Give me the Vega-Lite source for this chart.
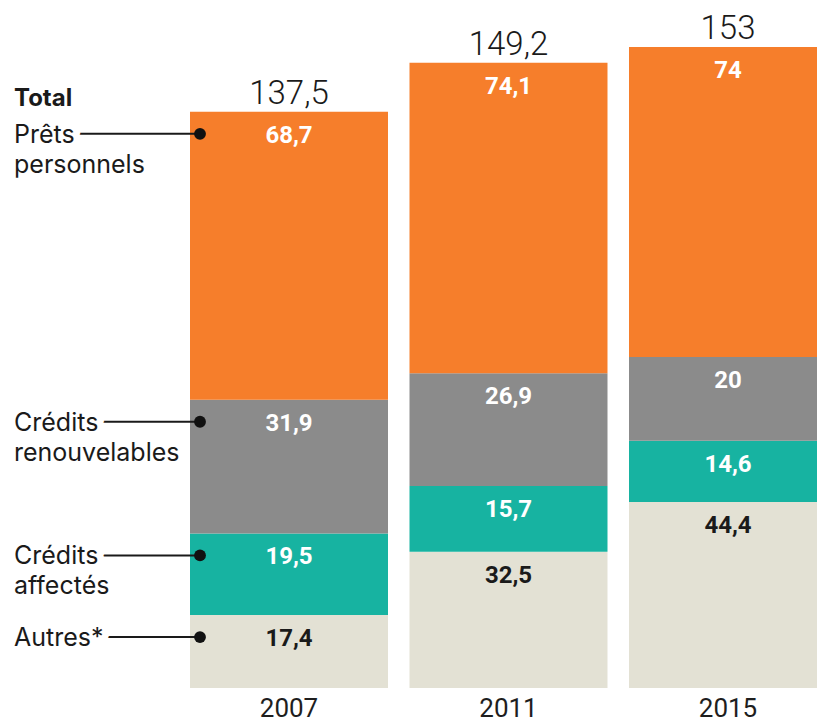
{
  "$schema": "https://vega.github.io/schema/vega-lite/v6.json",
  "width": 627,
  "height": 688,
  "autosize": {"type": "none"},
  "padding": {"left": 190, "top": 0, "right": 0, "bottom": 34},
  "background": "white",
  "config": {"view": {"stroke": null}, "font": "Roboto"},
  "data": {
    "values": [
      {"annee": "2007", "categorie": "Autres*", "ordre": 1, "valeur": 17.4},
      {"annee": "2007", "categorie": "Crédits affectés", "ordre": 2, "valeur": 19.5},
      {"annee": "2007", "categorie": "Crédits renouvelables", "ordre": 3, "valeur": 31.9},
      {"annee": "2007", "categorie": "Prêts personnels", "ordre": 4, "valeur": 68.7},
      {"annee": "2011", "categorie": "Autres*", "ordre": 1, "valeur": 32.5},
      {"annee": "2011", "categorie": "Crédits affectés", "ordre": 2, "valeur": 15.7},
      {"annee": "2011", "categorie": "Crédits renouvelables", "ordre": 3, "valeur": 26.9},
      {"annee": "2011", "categorie": "Prêts personnels", "ordre": 4, "valeur": 74.1},
      {"annee": "2015", "categorie": "Autres*", "ordre": 1, "valeur": 44.4},
      {"annee": "2015", "categorie": "Crédits affectés", "ordre": 2, "valeur": 14.6},
      {"annee": "2015", "categorie": "Crédits renouvelables", "ordre": 3, "valeur": 20},
      {"annee": "2015", "categorie": "Prêts personnels", "ordre": 4, "valeur": 74}
    ]
  },
  "transform": [
    {"stack": "valeur", "groupby": ["annee"], "sort": [{"field": "ordre"}], "as": ["y0", "y1"]},
    {"calculate": "replace(format(datum.valeur, '.1~f'), '.', ',')", "as": "etiquette"}
  ],
  "encoding": {
    "x": {
      "field": "annee", "type": "nominal",
      "scale": {"range": [0, 637], "paddingInner": 0.098, "paddingOuter": 0},
      "axis": {"title": null, "domain": false, "ticks": false, "labelAngle": 0, "labelFont": "Roboto", "labelFontSize": 26, "labelColor": "#1e1e1e", "labelPadding": 7}
    }
  },
  "layer": [
    {
      "mark": {"type": "bar"},
      "encoding": {
        "y": {"field": "y1", "type": "quantitative", "scale": {"domain": [0, 164.2], "nice": false}, "axis": null},
        "y2": {"field": "y0"},
        "color": {
          "field": "categorie", "type": "nominal", "legend": null,
          "scale": {
            "domain": ["Autres*", "Crédits affectés", "Crédits renouvelables", "Prêts personnels"],
            "range": ["#E3E1D4", "#17B3A1", "#8B8B8B", "#F67E2B"]
          }
        }
      }
    },
    {
      "mark": {"type": "text", "baseline": "alphabetic", "dy": 31, "fontSize": 24, "fontWeight": "bold", "font": "Roboto"},
      "encoding": {
        "y": {"field": "y1", "type": "quantitative"},
        "text": {"field": "etiquette"},
        "color": {"condition": {"test": "datum.categorie === 'Autres*'", "value": "#1a1a1a"}, "value": "#ffffff"}
      }
    },
    {
      "transform": [
        {"aggregate": [{"op": "sum", "field": "valeur", "as": "total"}], "groupby": ["annee"]},
        {"calculate": "replace(format(datum.total, '.1~f'), '.', ',')", "as": "totalEtiquette"}
      ],
      "mark": {"type": "text", "baseline": "alphabetic", "dy": -8, "fontSize": 33, "fontWeight": 300, "font": "Roboto", "color": "#1a1a1a"},
      "encoding": {
        "y": {"field": "total", "type": "quantitative"},
        "text": {"field": "totalEtiquette"}
      }
    },
    {
      "transform": [
        {"filter": "datum.annee === '2007'"},
        {"aggregate": [{"op": "sum", "field": "valeur", "as": "total"}], "groupby": ["annee"]},
        {"calculate": "'Total'", "as": "mot"}
      ],
      "mark": {"type": "text", "align": "left", "baseline": "alphabetic", "dx": -176, "dy": -6, "fontSize": 24, "fontWeight": "bold", "font": "Inter", "color": "#1a1a1a"},
      "encoding": {
        "x": {"field": "annee", "type": "nominal", "bandPosition": 0},
        "y": {"field": "total", "type": "quantitative"},
        "text": {"field": "mot"}
      }
    },
    {
      "transform": [{"filter": "datum.annee === '2007'"}],
      "mark": {"type": "rule", "color": "#1a1a1a", "strokeWidth": 2, "xOffset": 10, "x2Offset": -170, "yOffset": 22},
      "encoding": {
        "x": {"field": "annee", "type": "nominal", "bandPosition": 0},
        "x2": {"field": "annee", "bandPosition": 0},
        "y": {"field": "y1", "type": "quantitative"}
      }
    },
    {
      "transform": [{"filter": "datum.annee === '2007'"}],
      "mark": {"type": "text", "align": "left", "baseline": "alphabetic", "dx": -176, "dy": 31, "fontSize": 25, "font": "Inter", "lineBreak": " ", "lineHeight": 30, "color": "white", "stroke": "white", "strokeWidth": 14, "strokeJoin": "round"},
      "encoding": {
        "x": {"field": "annee", "type": "nominal", "bandPosition": 0},
        "y": {"field": "y1", "type": "quantitative"},
        "text": {"field": "categorie"}
      }
    },
    {
      "transform": [{"filter": "datum.annee === '2007'"}],
      "mark": {"type": "text", "align": "left", "baseline": "alphabetic", "dx": -176, "dy": 31, "fontSize": 25, "font": "Inter", "lineBreak": " ", "lineHeight": 30, "color": "#1a1a1a"},
      "encoding": {
        "x": {"field": "annee", "type": "nominal", "bandPosition": 0},
        "y": {"field": "y1", "type": "quantitative"},
        "text": {"field": "categorie"}
      }
    },
    {
      "transform": [{"filter": "datum.annee === '2007'"}],
      "mark": {"type": "point", "filled": true, "size": 140, "opacity": 1, "color": "#111111", "xOffset": 10, "yOffset": 22},
      "encoding": {
        "x": {"field": "annee", "type": "nominal", "bandPosition": 0},
        "y": {"field": "y1", "type": "quantitative"}
      }
    }
  ]
}
